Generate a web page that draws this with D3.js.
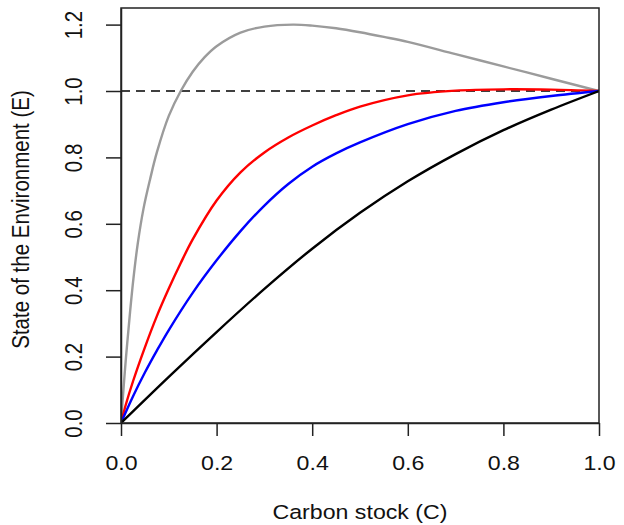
<!DOCTYPE html>
<html>
<head>
<meta charset="utf-8">
<script src="https://cdn.jsdelivr.net/npm/d3@7"></script>
<style>
  html, body { margin: 0; padding: 0; background: #fff; }
  svg { display: block; }
  text { font-family: "Liberation Sans", Arial, Helvetica, sans-serif; fill: #111; }
</style>
</head>
<body>
<svg id="chart" width="624" height="525"></svg>
<script>
// ---- Data ----
const xTicks = [0, 0.2, 0.4, 0.6, 0.8, 1.0];
const yTicks = [0, 0.2, 0.4, 0.6, 0.8, 1.0, 1.2];
const xLabel = "Carbon stock (C)";
const yLabel = "State of the Environment (E)";
const refLevel = 1.0;

const grayC = [0, 0.003, 0.008, 0.013, 0.019, 0.026, 0.035, 0.047, 0.061, 0.075, 0.1, 0.125, 0.15, 0.175, 0.2, 0.25, 0.3, 0.36, 0.4, 0.45, 0.5, 0.55, 0.6, 0.7, 0.8, 0.9, 1.0];
const grayE = [0, 0.06, 0.155, 0.24, 0.335, 0.435, 0.54, 0.645, 0.735, 0.815, 0.925, 1.0, 1.058, 1.102, 1.135, 1.176, 1.194, 1.2, 1.197, 1.189, 1.177, 1.163, 1.148, 1.111, 1.074, 1.037, 1.0];

const redC = [0, 0.01, 0.025, 0.05, 0.075, 0.1, 0.125, 0.15, 0.2, 0.25, 0.3, 0.35, 0.4, 0.45, 0.5, 0.6, 0.7, 0.8, 0.9, 1.0];
const redE = [0, 0.055, 0.125, 0.228, 0.322, 0.405, 0.482, 0.553, 0.67, 0.755, 0.815, 0.86, 0.896, 0.927, 0.953, 0.987, 1.001, 1.005, 1.004, 1.0];

const blueC = [0, 0.025, 0.05, 0.075, 0.1, 0.15, 0.2, 0.25, 0.3, 0.35, 0.4, 0.45, 0.5, 0.6, 0.7, 0.8, 0.9, 1.0];
const blueE = [0, 0.08, 0.152, 0.218, 0.28, 0.392, 0.49, 0.578, 0.655, 0.72, 0.772, 0.812, 0.845, 0.9, 0.94, 0.966, 0.985, 1.0];

const blackC = [0, 0.1, 0.2, 0.3, 0.4, 0.5, 0.6, 0.7, 0.8, 0.9, 1.0];
const blackE = [0, 0.139, 0.274, 0.404, 0.525, 0.633, 0.728, 0.81, 0.882, 0.944, 1.0];

const series = [
  { name: "gray",  c: grayC,  e: grayE,  color: "#9b9b9b" },
  { name: "red",   c: redC,   e: redE,   color: "#ff0000" },
  { name: "blue",  c: blueC,  e: blueE,  color: "#0000ff" },
  { name: "black", c: blackC, e: blackE, color: "#000000" }
];

// ---- Layout ----
const padL = 121, padR = 599, padT = 8, padB = 423;
const fontSize = 20.5, stretch = 1.13;

const svg = d3.select("#chart");
const x = d3.scaleLinear().domain([0, 1]).range([padL, padR]);
const y = d3.scaleLinear().domain([0, 1.25]).range([padB, padT]);

svg.append("defs").append("clipPath").attr("id", "plotclip")
  .append("rect").attr("x", padL).attr("y", padT)
  .attr("width", padR - padL).attr("height", padB - padT);

// dashed reference line
svg.append("line")
  .attr("x1", x(0)).attr("x2", x(1))
  .attr("y1", y(refLevel)).attr("y2", y(refLevel))
  .attr("stroke", "#000").attr("stroke-width", 1.4)
  .attr("stroke-dasharray", "9,6");

// curves
const line = d3.line()
  .x(d => x(d[0])).y(d => y(d[1]))
  .curve(d3.curveCatmullRom.alpha(0.5));

const g = svg.append("g").attr("clip-path", "url(#plotclip)");
series.forEach(s => {
  const pts = s.c.map((c, i) => [c, s.e[i]]);
  g.append("path").datum(pts)
    .attr("d", line)
    .attr("fill", "none")
    .attr("stroke", s.color)
    .attr("stroke-width", 2.4)
    .attr("stroke-linejoin", "round")
    .attr("stroke-linecap", "round");
});

// box
svg.append("rect")
  .attr("x", padL).attr("y", padT)
  .attr("width", padR - padL).attr("height", padB - padT)
  .attr("fill", "none").attr("stroke", "#222").attr("stroke-width", 1.5);

// x axis
const xAxis = svg.append("g")
  .attr("transform", `translate(0,${padB})`)
  .call(d3.axisBottom(x).tickValues(xTicks).tickFormat(d3.format(".1f"))
    .tickSize(13).tickSizeOuter(0));
xAxis.select(".domain").attr("stroke", "#222").attr("stroke-width", 1.5);
xAxis.selectAll(".tick line").attr("stroke", "#222").attr("stroke-width", 1.5);
xAxis.selectAll(".tick text")
  .attr("x", 0).attr("y", 0).attr("dy", null)
  .attr("transform", `translate(0,47) scale(${stretch},1)`)
  .attr("font-size", fontSize)
  .attr("font-family", "Liberation Sans, Arial, sans-serif")
  .attr("fill", "#111")
  .attr("text-anchor", "middle");

// y axis
const yAxis = svg.append("g")
  .attr("transform", `translate(${padL},0)`)
  .call(d3.axisLeft(y).tickValues(yTicks).tickFormat(d3.format(".1f"))
    .tickSize(15).tickSizeOuter(0));
yAxis.select(".domain").attr("stroke", "#222").attr("stroke-width", 1.5);
yAxis.selectAll(".tick line").attr("stroke", "#222").attr("stroke-width", 1.5);
yAxis.selectAll(".tick text")
  .attr("x", 0).attr("y", 0).attr("dy", null)
  .attr("transform", `translate(-39,0) scale(${stretch},1) rotate(-90)`)
  .attr("font-size", fontSize)
  .attr("font-family", "Liberation Sans, Arial, sans-serif")
  .attr("fill", "#111")
  .attr("text-anchor", "middle");

// axis titles
svg.append("text")
  .attr("transform", `translate(${(padL + padR) / 2},519) scale(${stretch},1)`)
  .attr("text-anchor", "middle")
  .attr("font-size", fontSize)
  .text(xLabel);

svg.append("text")
  .attr("transform", `translate(29,${(padT + padB) / 2 + 4}) scale(${stretch},1) rotate(-90)`)
  .attr("text-anchor", "middle")
  .attr("font-size", fontSize)
  .text(yLabel);
</script>
</body>
</html>
